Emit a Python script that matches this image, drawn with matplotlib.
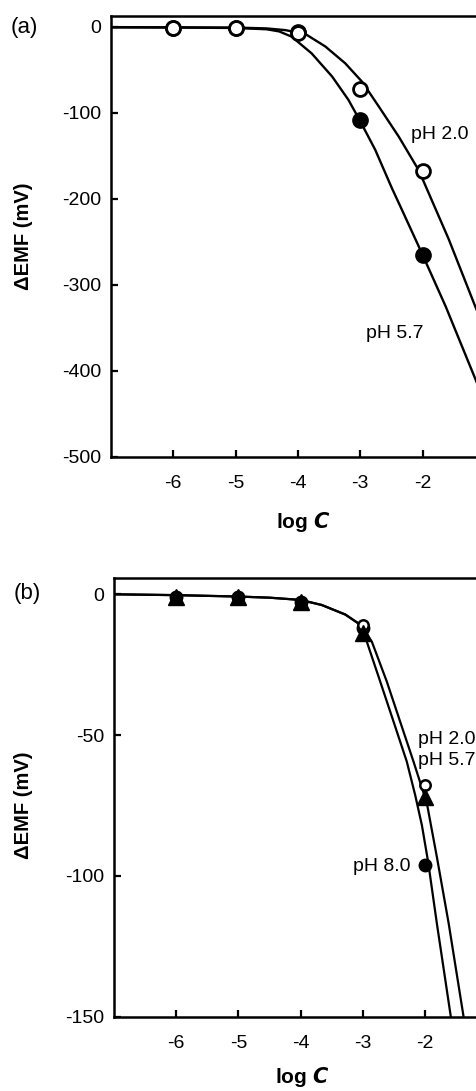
import matplotlib
matplotlib.use("Agg")
import matplotlib.pyplot as plt

plt.rcParams['font.family'] = ['Liberation Sans', 'DejaVu Sans']

# ---- panel (a) data ----
log_c = [-6, -5, -4, -3, -2]
a_ph20 = [-1, -1, -7, -72, -168]
a_ph57 = [-1, -1, -6, -109, -265]

# fitted curves
a_fit20_x = [-7.0, -6.0, -5.0, -4.5, -4.2, -3.88, -3.56, -3.24, -2.97, -2.70, -2.38, -2.06, -1.85, -1.58, -1.15, -1.05]
a_fit20_y = [-0.5, -0.7, -1.0, -2.0, -4.0, -8.5, -23, -42.6, -64, -93, -128, -167, -202, -247, -326, -343]
a_fit57_x = [-7.0, -6.0, -5.0, -4.5, -4.3, -4.10, -3.78, -3.45, -3.19, -3.01, -2.76, -2.49, -2.33, -2.01, -1.63, -1.15, -1.05]
a_fit57_y = [-0.8, -1.0, -1.5, -3.0, -5.5, -11.6, -31, -58, -85, -108.5, -143, -188, -213, -263.5, -325, -410, -428]

# ---- panel (b) data ----
b_ph20 = [-0.8, -0.8, -2.6, -10.9, -67.8]
b_ph57 = [-0.8, -0.8, -2.6, -13.9, -71.9]
b_ph80 = [-0.8, -0.8, -2.6, -12.0, -96.0]

b_fit20_x = [-7.0, -6.0, -5.0, -4.5, -4.0, -3.66, -3.28, -3.04, -2.855, -2.614, -2.40, -2.185, -1.97, -1.81, -1.62, -1.38, -1.33]
b_fit20_y = [0.0, -0.3, -0.8, -1.2, -2.0, -3.8, -7.2, -10.8, -16.8, -31.0, -45.2, -59.4, -74.2, -93.2, -116.8, -150, -158]
b_fit80_x = [-7.0, -6.0, -5.0, -4.5, -4.0, -3.66, -3.28, -3.04, -2.936, -2.72, -2.506, -2.293, -2.158, -2.05, -1.95, -1.81, -1.585, -1.55]
b_fit80_y = [0.0, -0.3, -0.8, -1.2, -2.0, -3.8, -7.2, -10.8, -16.8, -31.0, -45.2, -59.4, -71.3, -82, -95, -116.8, -150, -156]

fig = plt.figure(figsize=(4.77, 10.91), dpi=100)

def style(ax):
    for s in ['left', 'top', 'bottom']:
        ax.spines[s].set_linewidth(1.8)
    ax.spines['right'].set_visible(False)
    ax.tick_params(direction='in', length=5, width=1.6, labelsize=14,
                   top=False, right=False)
    ax.tick_params(axis='y', pad=7)
    ax.tick_params(axis='x', pad=13)
    ax.set_xlim(-7, -1)
    ax.set_xticks([-6, -5, -4, -3, -2])
    ax.set_xticklabels(['-6', '-5', '-4', '-3', '-2'])
    ax.set_xlabel(r'log $\boldsymbol{C}$', fontsize=15, fontweight='bold')
    ax.set_ylabel('ΔEMF (mV)', fontsize=14.5, fontweight='bold')

# panel (a)
ax1 = fig.add_axes([0.2327, 0.5814, 0.7837, 0.4039])
style(ax1)
ax1.plot(a_fit20_x, a_fit20_y, color='black', lw=1.7, zorder=2)
ax1.plot(a_fit57_x, a_fit57_y, color='black', lw=1.7, zorder=2)
ax1.plot(log_c, a_ph57, 'o', color='black', ms=11, zorder=3)
ax1.plot(log_c, a_ph20, 'o', mfc='white', mec='black', ms=10, mew=2, zorder=4)
ax1.set_ylim(-500, 12.4)
ax1.set_yticks([0, -100, -200, -300, -400, -500])
ax1.set_yticklabels(['0', '-100', '-200', '-300', '-400', '-500'])
ax1.xaxis.set_label_coords(0.514, -0.121)
ax1.yaxis.set_label_coords(-0.209, 0.5)
ax1.text(-2.19, -125, 'pH 2.0', fontsize=14, va='center', ha='left')
ax1.text(-2.90, -357, 'pH 5.7', fontsize=14, va='center', ha='left')

# panel (b)
ax2 = fig.add_axes([0.2390, 0.0681, 0.7824, 0.4024])
style(ax2)
ax2.plot(b_fit20_x, b_fit20_y, color='black', lw=1.6, zorder=2)
ax2.plot(b_fit80_x, b_fit80_y, color='black', lw=1.6, zorder=2)
ax2.plot(log_c, b_ph80, 'o', color='black', ms=9, zorder=3)
ax2.plot(log_c, b_ph20, 'o', mfc='white', mec='black', ms=7.5, mew=1.8, zorder=4)
ax2.plot(log_c, b_ph57, '^', color='black', ms=11, zorder=5)
ax2.set_ylim(-150, 5.9)
ax2.set_yticks([0, -50, -100, -150])
ax2.set_yticklabels(['0', '-50', '-100', '-150'])
ax2.xaxis.set_label_coords(0.505, -0.111)
ax2.yaxis.set_label_coords(-0.217, 0.482)
ax2.text(-2.12, -51.4, 'pH 2.0', fontsize=14, va='center', ha='left')
ax2.text(-2.12, -59.0, 'pH 5.7', fontsize=14, va='center', ha='left')
ax2.text(-2.24, -96.5, 'pH 8.0', fontsize=14, va='center', ha='right')

fig.text(0.022, 1 - 27 / 1091, '(a)', fontsize=16, va='center', ha='left')
fig.text(0.028, 1 - 593 / 1091, '(b)', fontsize=16, va='center', ha='left')

fig.savefig('out.png', dpi=100)
